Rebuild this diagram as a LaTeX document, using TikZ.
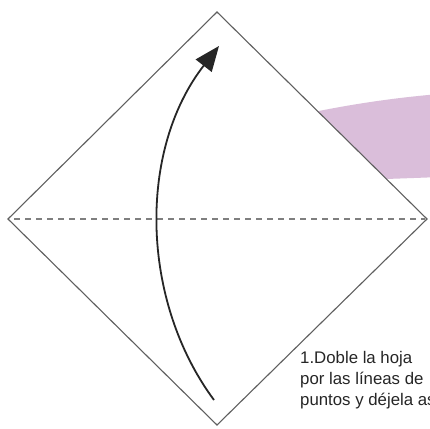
\documentclass[tikz,border=0pt]{standalone}
\usepackage{fontspec}
\setmainfont{Liberation Sans}
\usetikzlibrary{arrows.meta}
\definecolor{pinkband}{RGB}{218,190,218}
\definecolor{edgegray}{RGB}{95,95,95}
\tikzset{
  sheet/.style={draw=edgegray, line width=1.1pt, fill=white},
  foldline/.style={draw=edgegray!80, line width=1.1pt, dash pattern=on 6pt off 5pt},
  foldarrow/.style={draw=black!85, line width=1.8pt, -{Triangle[length=25pt,width=20pt]}},
  caption/.style={font=\fontsize{16.8}{21}\selectfont, align=left, anchor=north west, inner sep=0pt, text=black!85}
}
\begin{document}
\begin{tikzpicture}[x=1pt,y=-1pt]
\useasboundingbox (0,0) rectangle (430,428);
\clip (0,0) rectangle (430,428);
\fill[white] (0,0) rectangle (430,428);
% pink band
\fill[pinkband] (295,116) .. controls (340,106) and (390,98) .. (440,94)
  -- (440,177) .. controls (415,178) and (385,179) .. (360,180) -- cycle;
% sheet
\coordinate (T) at (217,12);
\coordinate (R) at (427,219);
\coordinate (B) at (217,425);
\coordinate (L) at (8,219);
\path[sheet] (T) -- (R) -- (B) -- (L) -- cycle;
\coordinate (dl) at (14,219);
\coordinate (dr) at (425,219);
\draw[foldline] (dl) -- (dr);
% arrow
\coordinate (a0) at (214,400);
\coordinate (a1) at (219,46);
\draw[foldarrow] (a0) .. controls (140,300) and (138,150) .. (a1);
% caption
\node[caption] (cap) at (300,351) {1.Doble la hoja\\por las líneas de\\puntos y déjela así};
\end{tikzpicture}
\end{document}
